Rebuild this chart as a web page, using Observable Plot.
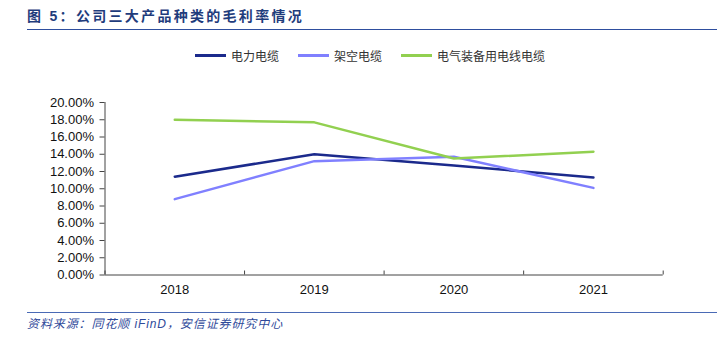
<!DOCTYPE html>
<html>
<head>
<meta charset="utf-8">
<script src="https://cdn.jsdelivr.net/npm/d3@7"></script>
<script src="https://cdn.jsdelivr.net/npm/@observablehq/plot@0.6"></script>
<style>
  html, body { margin: 0; padding: 0; background: #fff; }
  #wrap { position: relative; width: 717px; height: 340px; overflow: hidden;
    font-family: "Liberation Sans", Arial, "Noto Sans CJK SC", sans-serif; }
  #title { position: absolute; left: 27px; top: 6px; font-size: 14px; font-weight: bold;
    color: #1F3C7C; letter-spacing: 2.3px; white-space: nowrap; line-height: 20px; }
  #titleRule { position: absolute; left: 27px; right: 0; top: 28.5px; height: 0; border-top: 1.6px solid #2E4E9E; }
  #legend { position: absolute; left: 195px; top: 46px; height: 18px; display: flex; align-items: center;
    font-size: 12px; color: #333; white-space: nowrap; }
  .item { display: flex; align-items: center; margin-right: 19px; }
  .sw { width: 31px; height: 0; border-top: 3px solid; margin-right: 5px; }
  #chart { position: absolute; left: 0; top: 70px; }
  #footRule { position: absolute; left: 27px; right: 0; top: 312px; height: 0; border-top: 1.6px solid #4A6AB5; }
  #source { position: absolute; left: 27px; top: 315.5px; font-size: 12px; font-style: italic; color: #2F4A9A;
    white-space: nowrap; line-height: 16px; letter-spacing: 0.9px; }
</style>
</head>
<body>
<div id="wrap">
  <div id="title"></div>
  <div id="titleRule"></div>
  <div id="legend"></div>
  <div id="chart"></div>
  <div id="footRule"></div>
  <div id="source"></div>
</div>
<script>
// ---- data ----
const titleText = "图 5：公司三大产品种类的毛利率情况";
const sourceText = "资料来源：同花顺 iFinD，安信证券研究中心";
const years = [2018, 2019, 2020, 2021];
const seriesNames = ["电力电缆", "架空电缆", "电气装备用电线电缆"];
const powerCable = [0.114, 0.140, 0.127, 0.113];
const overheadCable = [0.088, 0.132, 0.137, 0.101];
const equipmentCable = [0.180, 0.177, 0.135, 0.143];
const yTicks = [0, 0.02, 0.04, 0.06, 0.08, 0.10, 0.12, 0.14, 0.16, 0.18, 0.20];
const seriesColors = ["#1B2A8C", "#8080FF", "#92D050"];

const seriesValues = [powerCable, overheadCable, equipmentCable];
const table = [];
seriesNames.forEach((name, i) => {
  years.forEach((yr, j) => table.push({series: name, year: yr, value: seriesValues[i][j]}));
});
const bounds = [years[0] - 0.5, ...years.map(y => y + 0.5)];

document.getElementById("title").textContent = titleText;
document.getElementById("source").textContent = sourceText;

const legend = document.getElementById("legend");
seriesNames.forEach((name, i) => {
  const it = document.createElement("div");
  it.className = "item";
  const sw = document.createElement("div");
  sw.className = "sw";
  sw.style.borderTopColor = seriesColors[i];
  const tx = document.createElement("span");
  tx.textContent = name;
  it.appendChild(sw); it.appendChild(tx);
  legend.appendChild(it);
});

const axisColor = "#444";
const chart = Plot.plot({
  width: 717,
  height: 230,
  marginLeft: 104.5,
  marginRight: 54.3,
  marginTop: 32,
  marginBottom: 25.5,
  style: {fontFamily: '"Liberation Sans", Arial, sans-serif', fontSize: "13px", color: "#111", background: "transparent"},
  x: {domain: [bounds[0], bounds[bounds.length - 1]], axis: null},
  y: {domain: [0, 0.2], axis: null},
  color: {domain: seriesNames, range: seriesColors},
  marks: [
    Plot.axisY({ticks: yTicks, tickFormat: d3.format(".2%"), tickSize: 5, tickPadding: 6, label: null, stroke: axisColor}),
    Plot.axisX({ticks: years, tickFormat: d => String(d), tickSize: 0, tickPadding: 10, label: null}),
    Plot.ruleX([bounds[0]], {stroke: axisColor}),
    Plot.ruleY([0], {stroke: axisColor}),
    Plot.ruleX(bounds, {x: d => d, y1: 0, y2: 0, insetTop: -4, stroke: axisColor}),
    Plot.line(table, {x: "year", y: "value", z: "series", stroke: "series", strokeWidth: 2.5})
  ]
});
document.getElementById("chart").appendChild(chart);
</script>
</body>
</html>
